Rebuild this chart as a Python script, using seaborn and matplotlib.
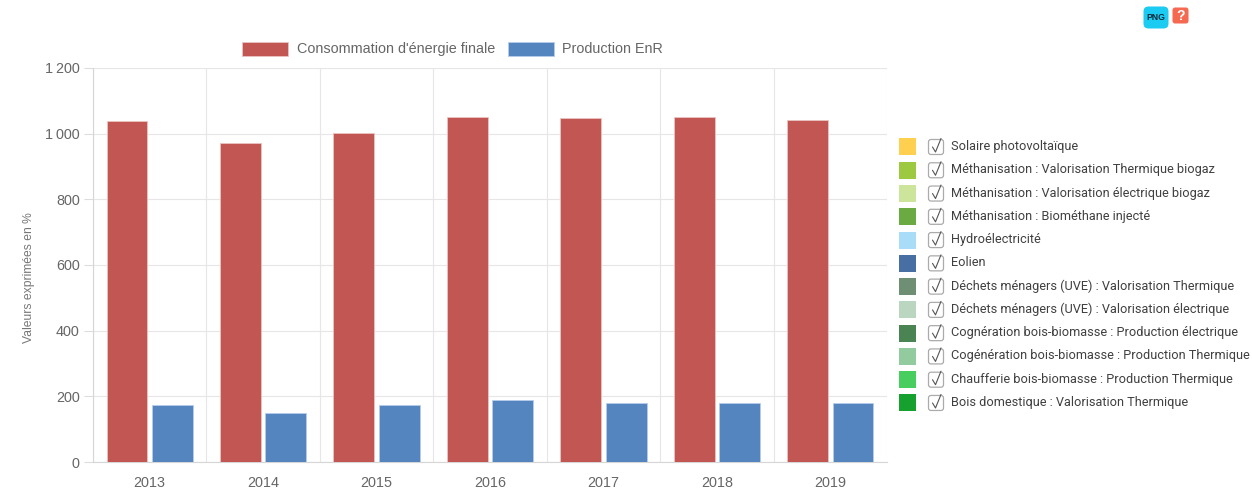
import matplotlib
matplotlib.use("Agg")
import matplotlib.pyplot as plt
from matplotlib.patches import Rectangle, FancyBboxPatch
from matplotlib.lines import Line2D
import pandas as pd
import seaborn as sns

years = ["2013", "2014", "2015", "2016", "2017", "2018", "2019"]
consommation = [1040, 972, 1003, 1052, 1047, 1052, 1043]
production = [175, 150, 175, 190, 180, 180, 180]
series_names = ["Consommation d'énergie finale", "Production EnR"]
series_colors = ["#C25652", "#5585BF"]
series_edges = ["#EBC4C2", "#B5CDEB"]

filieres = [
    "Solaire photovoltaïque",
    "Méthanisation : Valorisation Thermique biogaz",
    "Méthanisation : Valorisation électrique biogaz",
    "Méthanisation : Biométhane injecté",
    "Hydroélectricité",
    "Eolien",
    "Déchets ménagers (UVE) : Valorisation Thermique",
    "Déchets ménagers (UVE) : Valorisation électrique",
    "Cognération bois-biomasse : Production électrique",
    "Cogénération bois-biomasse : Production Thermique",
    "Chaufferie bois-biomasse : Production Thermique",
    "Bois domestique : Valorisation Thermique",
]
filiere_colors = [
    "#FFD04F", "#9CC940", "#CDE59B", "#6BAA43", "#A9DCF7", "#476FA3",
    "#6F8F75", "#BAD6C0", "#4B8453", "#92CC9E", "#48CE5E", "#16A02E",
]

W, H = 1252, 490
sns.set_theme(style="white")
plt.rcParams["font.family"] = ["Liberation Sans", "DejaVu Sans"]

fig = plt.figure(figsize=(W / 100, H / 100), dpi=100)
L, R, T, B = 93.0, 887.0, 68.0, 462.0
ax = fig.add_axes([L / W, 1 - B / H, (R - L) / W, (B - T) / H])

frame = pd.DataFrame({
    "annee": years * 2,
    "valeur": consommation + production,
    "serie": [series_names[0]] * 7 + [series_names[1]] * 7,
})
sns.barplot(data=frame, x="annee", y="valeur", hue="serie", hue_order=series_names,
            palette=series_colors, width=0.8, gap=0.1, saturation=1, legend=False,
            ax=ax, zorder=3)
for container, edge in zip(ax.containers, series_edges):
    for bar in container:
        bar.set_edgecolor(edge)
        bar.set_linewidth(0.6)

ax.set_xlim(-0.5, 6.5)
ax.set_ylim(0, 1200)
yticks = list(range(0, 1201, 200))
ax.set_yticks(yticks)
ax.set_yticklabels([f"{v:,}".replace(",", "\u2009") for v in yticks])
ax.set_xlabel("")
ax.set_ylabel("")
fig.text(29 / W, 1 - 277.5 / H, "Valeurs exprimées en %", rotation=90, ha="center",
         va="center", fontsize=8.7, color="#777777")
ax.tick_params(axis="both", length=6.5, width=0.8, color="#DDDDDD", pad=3,
               labelcolor="#666666", labelsize=10.4, bottom=True, left=True)
# Vertical separators sit between the years, so the category ticks are moved there
ax.set_xticks([i - 0.5 for i in range(8)], minor=True)
ax.tick_params(axis="x", which="major", length=0, pad=10)
ax.tick_params(axis="x", which="minor", length=6.5, width=0.8, color="#DDDDDD")
ax.grid(True, axis="y", color="#E6E6E6", lw=0.8, zorder=0)
ax.grid(True, axis="x", which="minor", color="#E6E6E6", lw=0.8, zorder=0)
ax.grid(False, axis="x", which="major")
ax.set_axisbelow(True)
for side, spine in ax.spines.items():
    spine.set_visible(side in ("left", "bottom"))
    spine.set_color("#D6D6D6")
    spine.set_linewidth(0.8)


def px_rect(x, y, w, h, **kw):
    fig.add_artist(Rectangle((x / W, 1 - (y + h) / H), w / W, h / H,
                             transform=fig.transFigure, **kw))


def px_text(x, y, s, **kw):
    fig.text(x / W, 1 - y / H, s, va="center", **kw)


def px_round(x, y, w, h, r, **kw):
    fig.add_artist(FancyBboxPatch((x + r, H - y - h + r), w - 2 * r, h - 2 * r,
                                  boxstyle=f"round,pad={r},rounding_size={r}",
                                  transform=None, **kw))


# Series legend above the plot
for x, tx, name, col, edge in zip((242, 508), (297, 562), series_names,
                                  series_colors, series_edges):
    px_rect(x, 42, 46, 14, facecolor=col, edgecolor=edge, lw=0.6)
    px_text(tx, 49, name, fontsize=10.4, color="#666666")

# Column of source filters with their check boxes
for i, (name, col) in enumerate(zip(filieres, filiere_colors)):
    yc = 147 + i * 23.27
    px_rect(899, yc - 8.5, 17, 17, facecolor=col, edgecolor="none")
    px_round(928.5, yc - 7.5, 15, 15, 2.5, facecolor="white", edgecolor="#ABABAB", lw=0.9)
    fig.add_artist(Line2D([932.5 / W, 935.5 / W, 941 / W],
                          [1 - yc / H, 1 - (yc + 5) / H, 1 - (yc - 8.5) / H],
                          transform=fig.transFigure, color="#555555", lw=0.8))
    px_text(951.5, yc - 0.5, name, fontsize=9.17, color="#404040", family=["Roboto"])

# Export and help buttons
px_round(1143.5, 6.5, 25, 22, 5, facecolor="#1CCBF2", edgecolor="none")
fig.text(1156 / W, 1 - 18 / H, "PNG", ha="center", va="center", fontsize=6.2,
         fontweight="bold", color="#0B2A3A")
px_round(1172.5, 7.5, 16, 16, 2.5, facecolor="#F4694F", edgecolor="none")
fig.text(1180.5 / W, 1 - 15.5 / H, "?", ha="center", va="center", fontsize=10,
         fontweight="bold", color="white")

fig.savefig("out.png", dpi=100)
